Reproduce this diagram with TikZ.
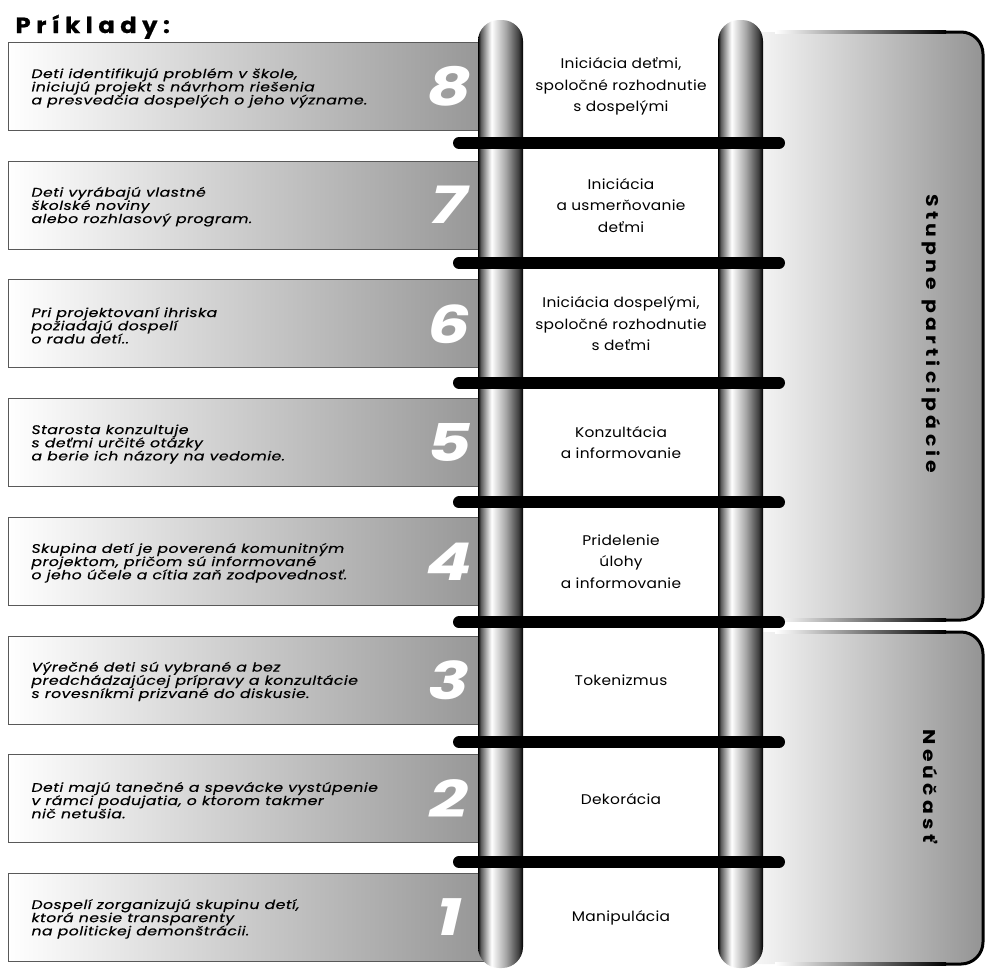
\documentclass[tikz,border=0pt]{standalone}
\usepackage{fontspec}
\setmainfont{Poppins}
\pgfdeclarehorizontalshading{pole}{100bp}{color(0bp)=(black); color(25bp)=(black); color(28bp)=(black!65); color(40bp)=(white); color(56bp)=(black!35); color(70bp)=(black!75); color(75bp)=(black); color(100bp)=(black)}
\begin{document}
\begin{tikzpicture}[x=1pt,y=-1pt,
	banner/.style={draw=black!65, line width=0.9pt, left color=white, right color=black!42},
	extext/.style={anchor=west, align=left, font=\itshape\fontsize{12.5}{13.2}\selectfont\addfontfeatures{FakeStretch=1.25,LetterSpace=4,FakeBold=0.4}},
	num/.style={text=white, font=\bfseries\itshape\fontsize{52}{52}\selectfont\addfontfeatures{FakeStretch=1.3}},
	level/.style={align=center, font=\fontsize{14}{21.5}\selectfont\addfontfeatures{FakeStretch=1.1,LetterSpace=2}},
	rung/.style={line width=12pt, line cap=round},
	pole/.style={shading=pole, rounded corners=21pt},
	side/.style={left color=white, right color=black!42, rounded corners=22pt},
	sidetext/.style={rotate=-90, font=\bfseries\fontsize{17}{17}\selectfont\addfontfeatures{FakeStretch=1.2,LetterSpace=25}}]
\useasboundingbox (0,0) rectangle (985,970);

\node[anchor=base west, font=\bfseries\fontsize{22}{24}\selectfont\addfontfeatures{FakeStretch=1.1,LetterSpace=25,FakeBold=0.8}] (title) at (12,33) {Príklady:};

% pravé zátvorky
\begin{scope}
	\shade[side] (735,32) rectangle (983,620);
	\shade[left color=white, right color=black] (775,30.5) rectangle (946,33.5);
	\shade[left color=white, right color=black] (775,618.5) rectangle (946,621.5);
	\draw[line width=3pt, rounded corners=22pt] (945,32) -- (983,32) -- (983,620) -- (945,620);
	\node[sidetext] (stupne) at (931,334) {Stupne participácie};

	\shade[side] (735,632) rectangle (983,964);
	\shade[left color=white, right color=black] (775,630.5) rectangle (946,633.5);
	\shade[left color=white, right color=black] (775,962.5) rectangle (946,965.5);
	\draw[line width=3pt, rounded corners=22pt] (945,632) -- (983,632) -- (983,964) -- (945,964);
	\node[sidetext] (neucast) at (931,786) {Neúčasť};
\end{scope}

% príklady vľavo
\foreach \n/\ex/\lv in {
	8/{Deti identifikujú problém v škole,\\iniciujú projekt s návrhom riešenia\\a presvedčia dospelých o jeho význame.}/{Iniciácia deťmi,\\spoločné rozhodnutie\\s dospelými},
	7/{Deti vyrábajú vlastné\\školské noviny\\alebo rozhlasový program.}/{Iniciácia\\a usmerňovanie\\deťmi},
	6/{Pri projektovaní ihriska\\požiadajú dospelí\\o radu detí..}/{Iniciácia dospelými,\\spoločné rozhodnutie\\s deťmi},
	5/{Starosta konzultuje\\s deťmi určité otázky\\a berie ich názory na vedomie.}/{Konzultácia\\a informovanie},
	4/{Skupina detí je poverená komunitným\\projektom, pričom sú informované\\o jeho účele a cítia zaň zodpovednosť.}/{Pridelenie\\úlohy\\a informovanie},
	3/{Výrečné deti sú vybrané a bez\\predchádzajúcej prípravy a konzultácie\\s rovesníkmi prizvané do diskusie.}/{Tokenizmus},
	2/{Deti majú tanečné a spevácke vystúpenie\\v rámci podujatia, o ktorom takmer\\nič netušia.}/{Dekorácia},
	1/{Dospelí zorganizujú skupinu detí,\\ktorá nesie transparenty\\na politickej demonštrácii.}/{Manipulácia}}
{
	\pgfmathsetmacro\yc{86.5+(8-\n)*118.7}
	\shade[banner] (8,\yc-44) rectangle (495,\yc+44);
	\node[extext] (ex\n) at (28,\yc+1.5) {\ex};
	\node[num] (num\n) at (449,\yc) {\n};
	\node[level] (lv\n) at (621,\yc) {\lv};
}

% rebrík
\shade[pole] (478,20) rectangle (523,968);
\shade[pole] (718,20) rectangle (763,968);
\foreach \k in {1,...,7}{
	\pgfmathsetmacro\yr{143+(\k-1)*119.8}
	\draw[rung] (459,\yr) -- (779,\yr);
}
\end{tikzpicture}
\end{document}
